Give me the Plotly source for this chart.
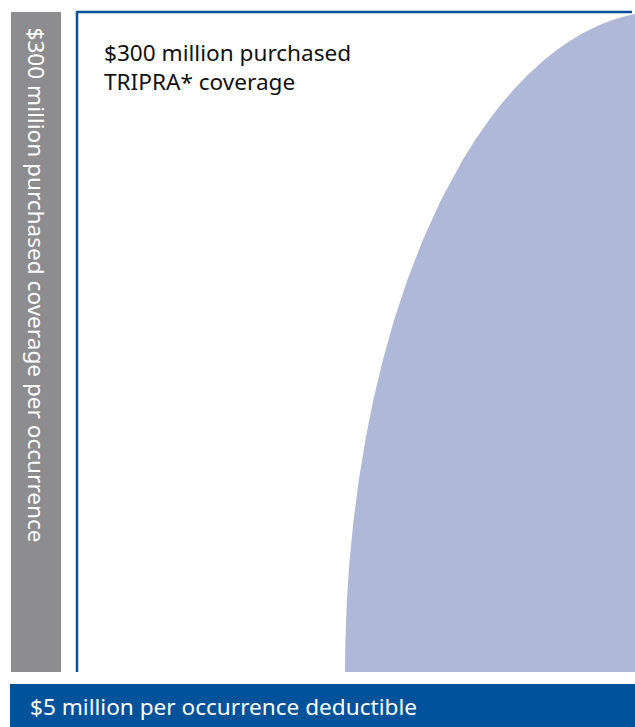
import plotly.graph_objects as go

# Diagram content
coverage_label = ["$300 million purchased", "TRIPRA* coverage"]
side_label = "$300 million purchased coverage per occurrence"
bottom_label = "$5 million per occurrence deductible"

# Edge of the coverage region (pixel coordinates)
edge_y = [672, 640, 600, 560, 520, 480, 440, 400, 360, 320, 280, 240, 200,
          160, 140, 120, 105, 90, 75, 60, 50, 40, 33, 25, 20, 17, 14, 11, 672]
edge_x = [345, 345.4, 346.9, 349.6, 353.6, 358.8, 365.4, 373.3, 382.9, 394.1,
          407.3, 422.8, 441.0, 462.6, 475.1, 489.0, 500.5, 513.3, 527.6, 544.1,
          556.7, 571.3, 583.1, 599.5, 612.4, 622.0, 634.5, 640, 640]

W, H = 635, 727
FONT = "Noto Sans"
FS = 22.6

fig = go.Figure()
fig.add_trace(go.Scatter(x=edge_x, y=edge_y, mode="lines", fill="toself",
                         fillcolor="#b0b8d8", line=dict(width=0, color="#b0b8d8"),
                         hoverinfo="skip"))

shapes = []
# gray side bar
shapes.append(dict(type="rect", x0=11, x1=61, y0=12, y1=672, fillcolor="#8d8d90", line_width=0, layer="below"))
# blue frame lines (top & left)
shapes.append(dict(type="line", x0=77, x1=632, y0=12, y1=12, line=dict(color="#0b4f9c", width=2.5)))
shapes.append(dict(type="line", x0=77, x1=77, y0=11, y1=672, line=dict(color="#0b4f9c", width=2.5)))
# blue bottom bar
shapes.append(dict(type="rect", x0=10, x1=635, y0=684, y1=727, fillcolor="#00529b", line_width=0))

annotations = [
    dict(x=102, y=35, xanchor="left", yanchor="top", align="left",
         text="<br>".join(coverage_label), showarrow=False,
         font=dict(family=FONT, size=FS, color="#111111")),
    dict(x=36, y=25, xanchor="center", yanchor="top", textangle=90,
         text=side_label, showarrow=False,
         font=dict(family=FONT, size=FS, color="white")),
    dict(x=28, y=706, xanchor="left", yanchor="middle",
         text=bottom_label, showarrow=False,
         font=dict(family=FONT, size=FS, color="white")),
]

fig.update_layout(
    width=W, height=H,
    margin=dict(l=0, r=0, t=0, b=0),
    paper_bgcolor="white", plot_bgcolor="white",
    xaxis=dict(range=[0, W], visible=False, fixedrange=True),
    yaxis=dict(range=[H, 0], visible=False, fixedrange=True),
    shapes=shapes, annotations=annotations,
    showlegend=False,
)

fig.write_html("out.html", config={"displayModeBar": False})
